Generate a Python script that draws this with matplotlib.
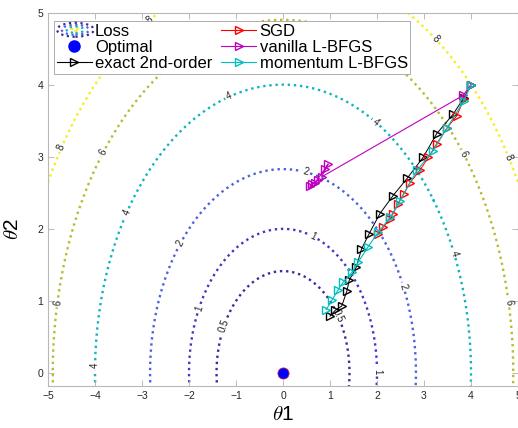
import numpy as np
import matplotlib
matplotlib.use("Agg")
import matplotlib.pyplot as plt
from matplotlib.patches import Ellipse
from matplotlib.lines import Line2D

plt.rcParams['font.family'] = ['Liberation Sans', 'DejaVu Sans']
plt.rcParams['mathtext.fontset'] = 'cm'

# contour levels of the loss and their colours
levels = [0.5, 1, 2, 4, 6, 8]
level_colors = ['#3d2a9e', '#4436c0', '#4e62dc', '#12b4c0', '#b8bb30', '#f4ef1c']

# optimisation paths (theta1, theta2)
exact_x = [4.0, 3.85, 3.62, 3.27, 2.98, 2.64, 2.34, 2.06, 1.83, 1.67, 1.56, 1.41, 1.36, 1.25, 1.11, 1.0]
exact_y = [4.0, 3.82, 3.59, 3.32, 2.99, 2.70, 2.46, 2.21, 1.93, 1.72, 1.47, 1.29, 1.14, 0.93, 0.87, 0.79]

sgd_x = [4.0, 3.85, 3.70, 3.49, 3.27, 3.09, 2.91, 2.70, 2.57, 2.45, 2.34, 2.28, 2.13, 2.02]
sgd_y = [4.0, 3.80, 3.57, 3.40, 3.18, 2.99, 2.81, 2.64, 2.49, 2.35, 2.21, 2.14, 2.02, 1.93]

vanilla_x = [4.0, 3.83, 0.82, 0.96, 0.89, 0.68, 0.57, 0.62, 0.75]
vanilla_y = [4.0, 3.85, 2.72, 2.90, 2.83, 2.64, 2.59, 2.62, 2.68]

momentum_x = [4.0, 3.85, 3.49, 3.19, 2.85, 2.49, 2.28, 2.02, 1.81, 1.60, 1.47, 1.28, 1.17, 1.04, 0.92]
momentum_y = [4.0, 3.78, 3.40, 3.08, 2.81, 2.39, 2.16, 1.95, 1.75, 1.54, 1.40, 1.26, 1.15, 1.01, 0.88]

optimal = (0.0, 0.0)

# where the contour labels sit
label_pos = [(-2.85, 4.91), (-4.72, 3.13), (3.23, 4.63), (4.78, 2.98),
             (-3.83, 3.06), (-4.81, 0.98), (3.85, 3.04), (4.81, 0.98),
             (-1.13, 3.82), (-3.34, 2.23), (-4.02, 0.11), (1.96, 3.46), (3.64, 1.66),
             (0.47, 2.76), (-2.19, 1.80), (2.55, 1.19),
             (-1.81, 0.90), (0.64, 1.88), (2.0, 0.02),
             (-1.28, 0.66), (1.15, 0.78)]

dot_style = (0, (1, 1.6))


class ContourIcon:
    """Legend handler drawing a small set of dotted ellipses."""
    def legend_artist(self, legend, orig_handle, fontsize, handlebox):
        w, h = handlebox.width, handlebox.height
        x0, y0 = handlebox.xdescent, handlebox.ydescent
        cx, cy = w / 2 - x0 + 1, h / 2 - y0
        sizes = [(1.05, 1.2), (0.78, 0.85), (0.5, 0.52), (0.24, 0.2)]
        cols = [level_colors[0], level_colors[2], level_colors[3], level_colors[5]]
        for (sw, sh), c in zip(sizes, cols):
            e = Ellipse((cx, cy), w * sw, h * sh, fill=False, edgecolor=c,
                        linestyle=dot_style, linewidth=1.6,
                        transform=handlebox.get_transform())
            handlebox.add_artist(e)
        return e


fig = plt.figure(figsize=(5.18, 4.28), dpi=100)
ax = fig.add_axes([0.0927, 0.098, 0.9073, 0.8727])

x = np.linspace(-5, 5, 501)
y = np.linspace(-0.3, 5.1, 301)
X, Y = np.meshgrid(x, y)
Z = (X ** 2 + Y ** 2) / 4

cs = ax.contour(X, Y, Z, levels=levels, colors=level_colors,
                linestyles=[dot_style], linewidths=1.7, zorder=1)
fmt = {0.5: '0.5', 1: '1', 2: '2', 4: '4', 6: '6', 8: '8'}
ax.clabel(cs, fmt=fmt, manual=label_pos, inline=True, inline_spacing=2,
          fontsize=7, colors='#222222')

ax.plot(optimal[0], optimal[1], 'o', color='b', markersize=8,
        markeredgecolor='#c02050', markeredgewidth=0.6, zorder=3)
ax.plot(exact_x, exact_y, '-', color='k', marker='>', markerfacecolor='none',
        markersize=5.5, linewidth=0.7, zorder=4)
ax.plot(sgd_x, sgd_y, '-', color='r', marker='>', markerfacecolor='none',
        markersize=5.5, linewidth=0.7, zorder=4)
ax.plot(vanilla_x, vanilla_y, '-', color='m', marker='>', markerfacecolor='none',
        markersize=5.5, linewidth=0.8, zorder=4)
ax.plot(momentum_x, momentum_y, '-', color='c', marker='>', markerfacecolor='none',
        markersize=5.5, linewidth=0.8, zorder=4)

ax.set_xlim(-5, 5)
ax.set_ylim(-0.18, 5)
ax.set_xticks(range(-5, 6))
ax.set_yticks(range(0, 6))
ax.tick_params(direction='in', top=True, right=True, length=4, width=0.6,
               labelsize=7.5, colors='#b0b0b0', labelcolor='#262626')
for s in ax.spines.values():
    s.set_color('#b8b8b8')
    s.set_linewidth(0.8)

ax.set_xlabel(r'$\theta$1', fontsize=15)
ax.set_ylabel(r'$\theta$2', fontsize=15)
ax.xaxis.set_label_coords(0.5, -0.05)
ax.yaxis.set_label_coords(-0.055, 0.42)

line_kw = dict(marker='>', markerfacecolor='none', markersize=5.5, linewidth=0.8)
handles = [
    Line2D([], []),
    Line2D([], [], linestyle='none', marker='o', color='b', markersize=8),
    Line2D([], [], color='k', **line_kw),
    Line2D([], [], color='r', **line_kw),
    Line2D([], [], color='m', **line_kw),
    Line2D([], [], color='c', **line_kw),
]
names = ['Loss', 'Optimal', 'exact 2nd-order', 'SGD', 'vanilla L-BFGS', 'momentum L-BFGS']
leg = ax.legend(handles, names, ncol=2, loc='upper left',
                bbox_to_anchor=(0.0128, 0.977), fontsize=12,
                handlelength=2.1, handletextpad=0.2, columnspacing=0.55,
                labelspacing=0.08, borderpad=0.15, borderaxespad=0,
                fancybox=False, framealpha=1, edgecolor='#a0a0a0',
                handler_map={handles[0]: ContourIcon()})
leg.get_frame().set_linewidth(0.6)
leg.set_zorder(10)

fig.savefig('out.png', dpi=100)
